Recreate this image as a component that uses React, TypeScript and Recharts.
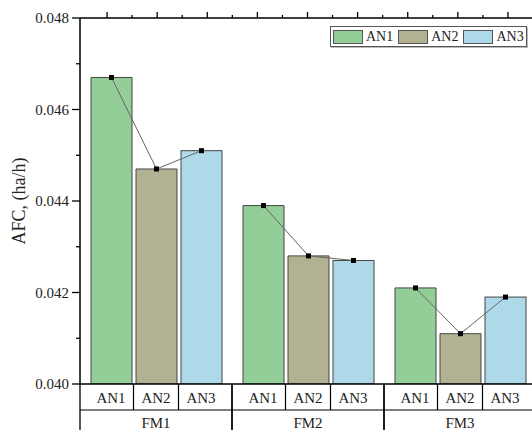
import { ComposedChart, Bar, XAxis, YAxis, Legend } from "recharts";

const groups = ["FM1", "FM2", "FM3"];
const subgroups = ["AN1", "AN2", "AN3"];
const an1 = [0.0467, 0.0439, 0.0421];
const an2 = [0.0447, 0.0428, 0.0411];
const an3 = [0.0451, 0.0427, 0.0419];
const yTicks = [0.04, 0.041, 0.042, 0.043, 0.044, 0.045, 0.046, 0.047, 0.048];
const topTicks = [0, 0.5, 1, 1.5, 2, 2.5, 3, 3.5, 4, 4.5, 5, 5.5, 6, 6.5, 7, 7.5, 8, 8.5];

const COLORS = ["#93CD98", "#B2B292", "#AED9E8"];
const FONT = '"Liberation Serif", "Times New Roman", serif';

const W = 540;
const H = 440;
const PLOT_LEFT = 80;
const PLOT_TOP = 18;
const PLOT_BOTTOM = 384;
const PLOT_W = 456;
const BAR_SIZE = 41;
const BAR_GAP = 4;
const Y_MIN = 0.04;
// top frame ticks (Origin's mirrored x axis), in its own units
const TOP_MIN = -0.54;
const TOP_MAX = 8.56;

const data = groups.map((g, i) => ({ group: g, AN1: an1[i], AN2: an2[i], AN3: an3[i] }));

// last bar of each group also draws the connecting line + markers so they sit on top
function LastBar(props: any) {
  const { x, y, width, height, payload, fill } = props;
  const bottom = y + height;
  const k = height / (payload.AN3 - Y_MIN);
  const step = width + BAR_GAP;
  const pts = subgroups.map((s, i) => ({
    cx: x + width / 2 - (2 - i) * step,
    cy: bottom - (payload[s] - Y_MIN) * k,
  }));
  return (
    <g>
      <rect x={x} y={y} width={width} height={height} fill={fill} stroke="#444" strokeWidth={1} />
      <polyline
        points={pts.map((p) => `${p.cx},${p.cy}`).join(" ")}
        fill="none"
        stroke="#666"
        strokeWidth={1}
      />
      {pts.map((p, i) => (
        <rect key={i} x={p.cx - 2.5} y={p.cy - 2.5} width={5} height={5} fill="#000" />
      ))}
    </g>
  );
}

function YTick(props: any) {
  const { y, payload } = props;
  const v = payload.value as number;
  const major = Math.round(v * 1000) % 2 === 0;
  return (
    <g>
      <line x1={PLOT_LEFT - (major ? 8 : 4)} x2={PLOT_LEFT} y1={y} y2={y} stroke="#000" strokeWidth={1.3} />
      {major && (
        <text x={PLOT_LEFT - 11} y={y + 5} textAnchor="end" fontSize={15} fontFamily={FONT} fill="#222">
          {v.toFixed(3)}
        </text>
      )}
    </g>
  );
}

// each group tick draws its cell of the label table below the plot,
// plus its stretch of the top frame with ticks
function TableTick(props: any) {
  const { x, payload } = props;
  const band = PLOT_W / groups.length;
  const step = BAR_SIZE + BAR_GAP;
  const rowDiv = PLOT_BOTTOM + 26;
  const left = x - band / 2;
  const right = x + band / 2;
  const topScale = (t: number) => PLOT_LEFT + ((t - TOP_MIN) / (TOP_MAX - TOP_MIN)) * PLOT_W;
  const tops = topTicks.map((t) => ({ t, px: topScale(t) })).filter((d) => d.px >= left && d.px < right);
  return (
    <g fontFamily={FONT} fontSize={15} fill="#222">
      <line x1={left} x2={right} y1={PLOT_TOP} y2={PLOT_TOP} stroke="#000" strokeWidth={1.5} />
      {tops.map((d) => (
        <line
          key={d.t}
          x1={d.px}
          x2={d.px}
          y1={PLOT_TOP}
          y2={PLOT_TOP - (Number.isInteger(d.t) ? 6 : 3)}
          stroke="#000"
          strokeWidth={1.3}
        />
      ))}
      {subgroups.map((s, i) => (
        <text key={s} x={x + (i - 1) * step} y={PLOT_BOTTOM + 19} textAnchor="middle">
          {s}
        </text>
      ))}
      <line x1={x - step / 2} x2={x - step / 2} y1={PLOT_BOTTOM} y2={rowDiv} stroke="#000" strokeWidth={1.2} />
      <line x1={x + step / 2} x2={x + step / 2} y1={PLOT_BOTTOM} y2={rowDiv} stroke="#000" strokeWidth={1.2} />
      <line x1={left} x2={left} y1={PLOT_BOTTOM} y2={H} stroke="#000" strokeWidth={1.3} />
      <line x1={right} x2={right} y1={PLOT_BOTTOM} y2={H} stroke="#000" strokeWidth={1.3} />
      <line x1={left} x2={right} y1={rowDiv} y2={rowDiv} stroke="#000" strokeWidth={1.2} />
      <text x={x} y={PLOT_BOTTOM + 44} textAnchor="middle">
        {payload.value}
      </text>
    </g>
  );
}

function LegendBox(props: any) {
  const items = props.payload && props.payload.length
    ? props.payload
    : subgroups.map((s, i) => ({ value: s, color: COLORS[i] }));
  return (
    <div
      style={{
        display: "flex",
        alignItems: "center",
        border: "1px solid #555",
        background: "#fff",
        padding: "2px 2px 2px 2px",
        fontFamily: FONT,
        fontSize: 14,
        color: "#222",
        lineHeight: "15px",
        boxShadow: "1px 1px 0 #bbb",
      }}
    >
      {items.map((it: any, i: number) => (
        <div key={i} style={{ display: "flex", alignItems: "center", marginLeft: i ? 5 : 0 }}>
          <span
            style={{
              display: "inline-block",
              width: 28,
              height: 12,
              background: it.color,
              border: "1px solid #555",
              marginRight: 3,
            }}
          />
          <span>{it.value}</span>
        </div>
      ))}
    </div>
  );
}

export default function App() {
  return (
    <div
      style={{
        position: "fixed",
        left: 0,
        top: 0,
        width: 532,
        height: 430,
        overflow: "hidden",
        background: "#fff",
      }}
    >
      <ComposedChart
        width={W}
        height={H}
        data={data}
        margin={{ top: PLOT_TOP, right: W - PLOT_LEFT - PLOT_W, bottom: 0, left: 0 }}
        barGap={BAR_GAP}
        barSize={BAR_SIZE}
      >
        <XAxis
          dataKey="group"
          height={H - PLOT_BOTTOM}
          interval={0}
          tickLine={false}
          axisLine={{ stroke: "#000", strokeWidth: 1.5 }}
          tick={<TableTick />}
        />
        <YAxis
          width={PLOT_LEFT}
          domain={[0.04, 0.048]}
          ticks={yTicks}
          allowDataOverflow
          interval={0}
          tickLine={false}
          axisLine={{ stroke: "#000", strokeWidth: 1.5 }}
          tick={<YTick />}
          label={{
            content: () => (
              <text
                x={25}
                y={201}
                transform="rotate(-90 25 201)"
                textAnchor="middle"
                fontSize={18}
                fontFamily={FONT}
                fill="#222"
              >
                AFC, (ha/h)
              </text>
            ),
          }}
        />
        <Legend
          layout="horizontal"
          verticalAlign="middle"
          align="center"
          wrapperStyle={{ position: "absolute", top: 26, left: 330, width: "auto" }}
          content={<LegendBox />}
        />
        <Bar dataKey="AN1" name="AN1" fill={COLORS[0]} stroke="#444" strokeWidth={1} isAnimationActive={false} />
        <Bar dataKey="AN2" name="AN2" fill={COLORS[1]} stroke="#444" strokeWidth={1} isAnimationActive={false} />
        <Bar dataKey="AN3" name="AN3" fill={COLORS[2]} shape={<LastBar />} isAnimationActive={false} />
      </ComposedChart>
    </div>
  );
}
